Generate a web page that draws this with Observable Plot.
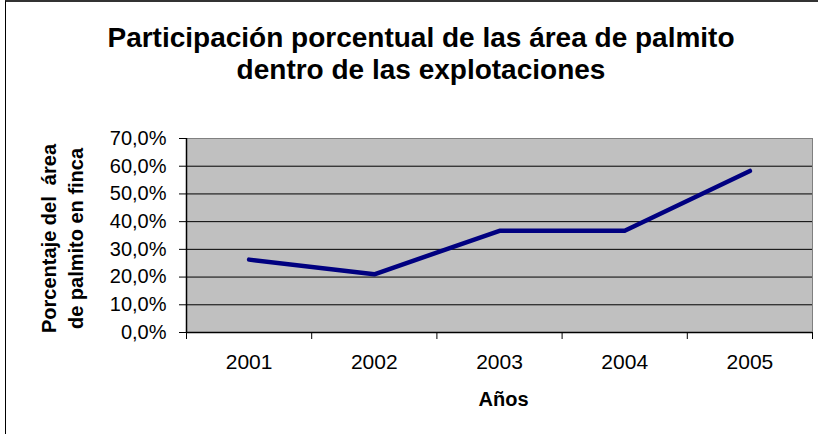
<!DOCTYPE html>
<html>
<head>
<meta charset="utf-8">
<script src="https://cdn.jsdelivr.net/npm/d3@7"></script>
<script src="https://cdn.jsdelivr.net/npm/@observablehq/plot@0.6"></script>
<style>
  html, body { margin: 0; padding: 0; background: #fff; }
  #wrap { position: relative; width: 818px; height: 434px; overflow: hidden; font-family: "Liberation Sans", Arial, sans-serif; }
  #border { position: absolute; left: 5px; top: 0; width: 830px; height: 450px; border-top: 2px solid #333; border-left: 1px solid #000; box-sizing: border-box; }
  #title { position: relative; margin: 0; padding-top: 22px; height: 78px; box-sizing: content-box; width: 842px; text-align: center; font-size: 28px; font-weight: bold; line-height: 32px; color: #000; }
  #chart { position: relative; }
</style>
</head>
<body>
<div id="wrap">
  <div id="border"></div>
  <div id="title">Participación porcentual de las área de palmito<br>dentro de las explotaciones</div>
  <div id="chart"></div>
</div>
<script>
const years = [2001, 2002, 2003, 2004, 2005];
const values = [26.3, 21.0, 36.7, 36.7, 58.3];
const yTicks = [0, 10, 20, 30, 40, 50, 60, 70];
const xTitle = "Años";
const yTitle = "Porcentaje del  área\nde palmito en finca";

const data = years.map((year, i) => ({year, value: values[i]}));
const boundaries = [years[0] - 0.5, ...years.map(y => y + 0.5)];
const xDomain = [boundaries[0], boundaries[boundaries.length - 1]];
const fmt = d => d.toFixed(1).replace(".", ",") + "%";

const chart = Plot.plot({
  width: 818,
  height: 334,
  marginTop: 38,
  marginBottom: 102,
  marginLeft: 186,
  marginRight: 6,
  style: {fontFamily: "'Liberation Sans', Arial, sans-serif", background: "transparent", color: "#000"},
  x: {type: "linear", domain: xDomain, label: null},
  y: {domain: [0, 70], label: null},
  marks: [
    Plot.frame({fill: "#c0c0c0", stroke: null}),
    Plot.gridY(yTicks.filter(t => t > 0 && t < 70), {stroke: "#000", strokeOpacity: 1, strokeWidth: 1}),
    Plot.frame({stroke: "#808080", strokeWidth: 1}),
    Plot.ruleX([xDomain[0]], {stroke: "#000", strokeWidth: 1.5}),
    Plot.ruleY([0], {stroke: "#000", strokeWidth: 1.5}),
    Plot.line(data, {x: "year", y: "value", stroke: "#000080", strokeWidth: 4.5, strokeLinejoin: "round", strokeLinecap: "round"}),
    Plot.axisY(yTicks, {tickSize: 7, tickPadding: 13, tickFormat: fmt, fontSize: 20, stroke: "#000", label: null}),
    Plot.axisX(boundaries, {tickSize: 7, tickFormat: () => "", stroke: "#000", label: null}),
    Plot.axisX(years, {tickSize: 0, tickPadding: 22, tickFormat: d => String(d), fontSize: 21, label: null}),
    Plot.text([xTitle], {frameAnchor: "bottom", lineAnchor: "bottom", dy: 73, dx: 4, fontSize: 20, fontWeight: "bold"}),
    Plot.text([yTitle], {frameAnchor: "left", rotate: -90, textAnchor: "middle", lineAnchor: "middle", lineHeight: 1.35, dx: -126, dy: 3, fontSize: 20, fontWeight: "bold"})
  ]
});
document.getElementById("chart").appendChild(chart);
</script>
</body>
</html>
